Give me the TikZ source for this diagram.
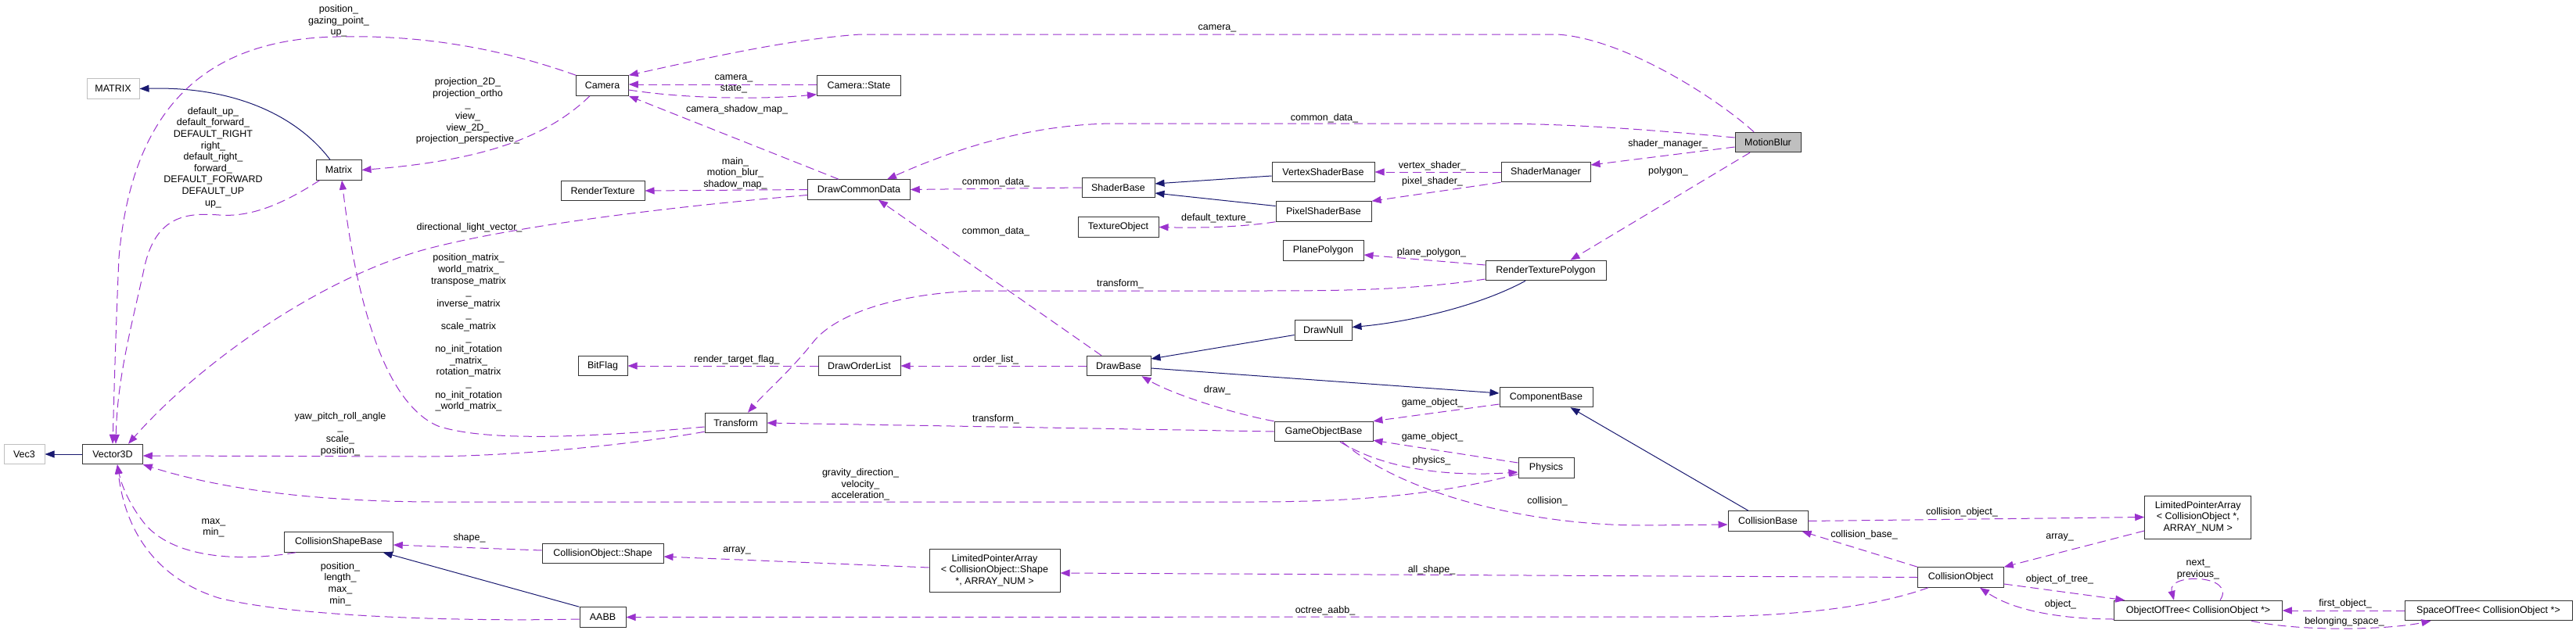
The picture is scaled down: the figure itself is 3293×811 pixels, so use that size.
\documentclass[tikz,border=0pt]{standalone}
\usepackage{fontspec}
\setmainfont{Liberation Sans}
\usetikzlibrary{arrows.meta}
\definecolor{usecol}{HTML}{9A32CD}
\definecolor{inhcol}{HTML}{191970}
\begin{document}
\begin{tikzpicture}[x=1pt,y=-1pt,
  font=\fontsize{12.5}{14.6}\selectfont,
  cls/.style={draw=black!80,fill=white,line width=1pt,inner sep=0pt,minimum height=25.5pt,align=center},
  extcls/.style={cls,draw=black!25},
  uses/.style={draw=usecol,line width=1pt,dash pattern=on 11pt off 6pt,-{Triangle[length=12pt,width=9pt]}},
  inherit/.style={draw=inhcol,line width=1pt,-{Triangle[length=12pt,width=9pt]}},
  lbl/.style={inner sep=0pt,align=center}]
\useasboundingbox (0,0) rectangle (3293,811);
% classes
\node[extcls,minimum width=67pt] (mtxbig) at (144.5,113.5) {MATRIX};
\node[extcls,minimum width=52pt] (vec3) at (31,581) {Vec3};
\node[cls,minimum width=76.5pt] (vec) at (144,581) {Vector3D};
\node[cls,minimum width=58pt] (mtx) at (433,217.5) {Matrix};
\node[cls,minimum width=66.5pt] (cam) at (770,109.5) {Camera};
\node[cls,minimum width=107pt] (camst) at (1098,109.5) {Camera::State};
\node[cls,minimum width=107pt] (rtex) at (770.5,244) {RenderTexture};
\node[cls,minimum width=130.5pt] (dcd) at (1098,242.5) {DrawCommonData};
\node[cls,minimum width=63pt] (bitflag) at (770.5,468) {BitFlag};
\node[cls,minimum width=105pt] (dol) at (1098.5,468) {DrawOrderList};
\node[cls,minimum width=79pt] (trans) at (940.5,541) {Transform};
\node[cls,minimum width=138.5pt] (csb) at (433,693.5) {CollisionShapeBase};
\node[cls,minimum width=155pt] (cosh) at (770.5,708) {CollisionObject::Shape};
\node[cls,minimum width=59pt] (aabb) at (770.5,789.5) {AABB};
\node[cls,minimum width=93pt] (sbase) at (1429.5,240) {ShaderBase};
\node[cls,minimum width=103pt] (tobj) at (1429.5,290.5) {TextureObject};
\node[cls,minimum width=82pt] (dbase) at (1430,468) {DrawBase};
\node[cls,minimum width=167pt,minimum height=55pt] (lpashape) at (1271.5,729.5) {LimitedPointerArray\\< CollisionObject::Shape\\ *, ARRAY\_NUM >};
\node[cls,minimum width=131pt] (vsb) at (1691.5,220) {VertexShaderBase};
\node[cls,minimum width=122pt] (psb) at (1692,270.5) {PixelShaderBase};
\node[cls,minimum width=103pt] (ppoly) at (1691.5,320.5) {PlanePolygon};
\node[cls,minimum width=73pt] (dnull) at (1691.5,422.5) {DrawNull};
\node[cls,minimum width=126pt] (gob) at (1692,552) {GameObjectBase};
\node[cls,minimum width=114pt] (smgr) at (1976,220) {ShaderManager};
\node[cls,minimum width=154pt] (rtp) at (1976,346) {RenderTexturePolygon};
\node[cls,minimum width=119pt] (compb) at (1976.5,508) {ComponentBase};
\node[cls,minimum width=71pt] (phys) at (1976.5,598.5) {Physics};
\node[cls,minimum width=84pt,fill=black!25] (mb) at (2260,182) {MotionBlur};
\node[cls,minimum width=102pt] (cbase) at (2260,666.5) {CollisionBase};
\node[cls,minimum width=109.5pt] (cobj) at (2506.5,738.5) {CollisionObject};
\node[cls,minimum width=136pt,minimum height=55pt] (lpaco) at (2809.7,661.5) {LimitedPointerArray\\< CollisionObject *,\\ARRAY\_NUM >};
\node[cls,minimum width=214.5pt] (oot) at (2810,781) {ObjectOfTree< CollisionObject *>};
\node[cls,minimum width=214pt] (sot) at (3181,781) {SpaceOfTree< CollisionObject *>};
% member labels
\node[lbl] (lposgaze) at (433,27) {position\_\\gazing\_point\_\\up\_};
\node[lbl] (ldefault) at (272.5,201.5) {default\_up\_\\default\_forward\_\\DEFAULT\_RIGHT\\right\_\\default\_right\_\\forward\_\\DEFAULT\_FORWARD\\DEFAULT\_UP\\up\_};
\node[lbl] (lproj) at (598,142) {projection\_2D\_\\projection\_ortho\\\_\\view\_\\view\_2D\_\\projection\_perspective\_};
\node[lbl] (ldlv) at (600,291) {directional\_light\_vector\_};
\node[lbl] (lmatrices) at (599,425.5) {position\_matrix\_\\world\_matrix\_\\transpose\_matrix\\\_\\inverse\_matrix\\\_\\scale\_matrix\\\_\\no\_init\_rotation\\\_matrix\_\\rotation\_matrix\\\_\\no\_init\_rotation\\\_world\_matrix\_};
\node[lbl] (lyaw) at (435,555) {yaw\_pitch\_roll\_angle\\\_\\scale\_\\position\_};
\node[lbl] (lmaxmin) at (273,675.5) {max\_\\min\_};
\node[lbl] (lposlen) at (435,747) {position\_\\length\_\\max\_\\min\_};
\node[lbl] (lgravity) at (1100,620) {gravity\_direction\_\\velocity\_\\acceleration\_};
\node[lbl] (lcamst) at (938,107.5) {camera\_\\state\_};
\node[lbl] (lcsm) at (942,140) {camera\_shadow\_map\_};
\node[lbl] (lmain) at (940,221.5) {main\_\\motion\_blur\_\\shadow\_map\_};
\node[lbl] (lrtf) at (942,460) {render\_target\_flag\_};
\node[lbl] (lshape) at (600,688) {shape\_};
\node[lbl] (larrshape) at (942,704) {array\_};
\node[lbl] (lcamera) at (1556,36) {camera\_};
\node[lbl] (lcdmb) at (1693,151) {common\_data\_};
\node[lbl] (lcdsb) at (1273,233) {common\_data\_};
\node[lbl] (lcddb) at (1273,296) {common\_data\_};
\node[lbl] (ldeftex) at (1555,279) {default\_texture\_};
\node[lbl] (ltranstop) at (1432,363) {transform\_};
\node[lbl] (lorder) at (1273,460) {order\_list\_};
\node[lbl] (ldraw) at (1556,499) {draw\_};
\node[lbl] (ltransgob) at (1273,536) {transform\_};
\node[lbl] (lvertex) at (1831,212) {vertex\_shader\_};
\node[lbl] (lpixel) at (1831,232) {pixel\_shader\_};
\node[lbl] (lsmgr) at (2132,184) {shader\_manager\_};
\node[lbl] (lpolygon) at (2132.5,219) {polygon\_};
\node[lbl] (lplane) at (1830,323) {plane\_polygon\_};
\node[lbl] (lgoc) at (1831,515) {game\_object\_};
\node[lbl] (lgop) at (1831,559) {game\_object\_};
\node[lbl] (lphys) at (1830,589) {physics\_};
\node[lbl] (lcoll) at (1978,641) {collision\_};
\node[lbl] (lallshape) at (1830,729) {all\_shape\_};
\node[lbl] (loctree) at (1694,781) {octree\_aabb\_};
\node[lbl] (lcollobj) at (2508,655) {collision\_object\_};
\node[lbl] (lcollbase) at (2383,684) {collision\_base\_};
\node[lbl] (larrco) at (2633,687) {array\_};
\node[lbl] (lobjtree) at (2633,741) {object\_of\_tree\_};
\node[lbl] (lobject) at (2634,773) {object\_};
\node[lbl] (lnext) at (2810,728.5) {next\_\\previous\_};
\node[lbl] (lfirst) at (2998,772) {first\_object\_};
\node[lbl] (lbelong) at (2997,795) {belonging\_space\_};
% inheritance
\draw[inherit] (vec.west) -- (vec3.east);
\draw[inherit] ([xshift=-11pt]mtx.north) .. controls (385,155) and (310,110) .. (mtxbig.east);
\draw[inherit] ([yshift=-5pt]vsb.west) -- ([yshift=5pt]sbase.east);
\draw[inherit] ([yshift=7pt]psb.west) -- ([yshift=-7pt]sbase.east);
\draw[inherit] ([yshift=-6pt]dnull.west) -- ([yshift=9pt]dbase.east);
\draw[inherit] ([xshift=-26pt]rtp.south) .. controls (1890,392) and (1800,412) .. ([yshift=4pt]dnull.east);
\draw[inherit] ([yshift=-3pt]dbase.east) -- ([yshift=5pt]compb.west);
\draw[inherit] ([xshift=-25pt]cbase.north) -- ([xshift=31pt]compb.south);
\draw[inherit] (aabb.north west) -- ([xshift=-13pt]csb.south east);
% members
\draw[uses] (cam.north west) .. controls (620,55) and (520,45) .. (430,47) .. controls (280,50) and (170,120) .. (152,330) .. controls (148,420) and (146,500) .. (vec.north);
\draw[uses] ([xshift=5pt]mtx.south west) .. controls (360,262) and (320,278) .. (280,275) .. controls (240,272) and (200,275) .. (185,340) .. controls (170,410) and (150,480) .. ([xshift=4pt]vec.north);
\draw[uses] ([yshift=-7pt]dcd.west) .. controls (850,265) and (650,290) .. (540,320) .. controls (400,360) and (250,470) .. ([xshift=20pt]vec.north);
\draw[uses] ([xshift=-16pt]cam.south) .. controls (700,175) and (620,205) .. (mtx.east);
\draw[uses] ([yshift=-5pt]trans.west) .. controls (750,560) and (620,565) .. (560,545) .. controls (490,515) and (455,380) .. ([xshift=4pt]mtx.south);
\draw[uses] ([yshift=2pt]trans.south west) .. controls (800,570) and (650,584) .. (540,584) -- ([yshift=-2pt]vec.east);
\draw[uses] ([yshift=-8pt]phys.west) .. controls (1850,630) and (1750,642) .. (1600,642) -- (560,642) .. controls (400,642) and (280,625) .. (vec.south east);
\draw[uses] ([xshift=15pt]csb.south west) .. controls (300,720) and (220,712) .. (185,670) .. controls (165,645) and (155,620) .. ([xshift=6pt]vec.south);
\draw[uses] ([yshift=-2.5pt]aabb.west) .. controls (600,795) and (380,790) .. (280,765) .. controls (200,740) and (160,680) .. ([xshift=6pt]vec.south);
\draw[uses] ([xshift=-18pt]mb.north) .. controls (2200,130) and (2080,50) .. (1991,44) -- (1100,44) .. controls (1010,50) and (900,75) .. (cam.north east);
\draw[uses] ([yshift=1.5pt]camst.west) -- ([yshift=1.5pt]cam.east);
\draw[uses] ([yshift=-5.5pt]cam.east) .. controls (880,127) and (980,127) .. ([yshift=2pt]camst.south west);
\draw[uses] ([xshift=-26pt]dcd.north) -- (cam.south east);
\draw[uses] (dcd.west) -- (rtex.east);
\draw[uses] (sbase.west) -- (dcd.east);
\draw[uses] ([yshift=6pt]mb.west) .. controls (2100,165) and (2000,158) .. (1900,158) -- (1420,158) .. controls (1300,160) and (1200,200) .. ([xshift=36pt]dcd.north);
\draw[uses] ([xshift=-22pt]dbase.north) -- ([xshift=25pt]dcd.south);
\draw[uses] (psb.south west) .. controls (1590,290) and (1540,292) .. (tobj.east);
\draw[uses] (smgr.west) -- (vsb.east);
\draw[uses] (smgr.south west) -- (psb.north east);
\draw[uses] ([yshift=-6pt]mb.west) -- ([yshift=9pt]smgr.east);
\draw[uses] ([xshift=-23pt]mb.south) -- ([xshift=31.5pt]rtp.north);
\draw[uses] ([yshift=7pt]rtp.west) -- ([yshift=-5.5pt]ppoly.east);
\draw[uses] ([yshift=-11pt]rtp.west) .. controls (1800,372) and (1700,372) .. (1600,372) -- (1250,372) .. controls (1150,375) and (1070,400) .. (1040,437) .. controls (1010,475) and (980,500) .. ([xshift=15.5pt]trans.north);
\draw[uses] (dbase.west) -- (dol.east);
\draw[uses] (dol.west) -- (bitflag.east);
\draw[uses] (gob.north west) .. controls (1580,530) and (1500,505) .. ([xshift=-12pt]dbase.south east);
\draw[uses] (gob.west) -- (trans.east);
\draw[uses] ([yshift=-9pt]compb.west) -- (gob.north east);
\draw[uses] ([yshift=6.5pt]phys.west) -- ([yshift=2pt]gob.south east);
\draw[uses] ([xshift=21pt]gob.south) .. controls (1770,600) and (1850,610) .. ([yshift=-5.5pt]phys.west);
\draw[uses] ([xshift=24pt]gob.south) .. controls (1790,630) and (1950,672) .. (2100,672) -- ([yshift=-4.5pt]cbase.west);
\draw[uses] (cbase.east) -- (lpaco.west);
\draw[uses] (cobj.north west) -- ([xshift=-8pt]cbase.south east);
\draw[uses] ([yshift=-17.5pt]lpaco.west) -- (cobj.north east);
\draw[uses] (cobj.west) -- ([yshift=-3.5pt]lpashape.east);
\draw[uses] ([yshift=3.5pt]lpashape.west) -- ([yshift=-4pt]cosh.east);
\draw[uses] ([yshift=4pt]cosh.west) -- ([yshift=-3.5pt]csb.east);
\draw[uses] ([xshift=-41.5pt]cobj.south) .. controls (2400,775) and (2300,789) .. (2160,789) -- (aabb.east);
\draw[uses] ([yshift=-8.5pt]cobj.east) -- ([xshift=14pt]oot.north west);
\draw[uses] ([yshift=-11pt]oot.west) .. controls (2650,792) and (2580,785) .. ([xshift=24.5pt]cobj.south);
\draw[uses] ([xshift=28pt]oot.north) .. controls (2860,735) and (2770,732) .. ([xshift=-31pt]oot.north);
\draw[uses] (sot.west) -- (oot.east);
\draw[uses] ([xshift=68pt]oot.south) .. controls (2940,808) and (3050,806) .. ([xshift=34pt]sot.south west);
\end{tikzpicture}
\end{document}
